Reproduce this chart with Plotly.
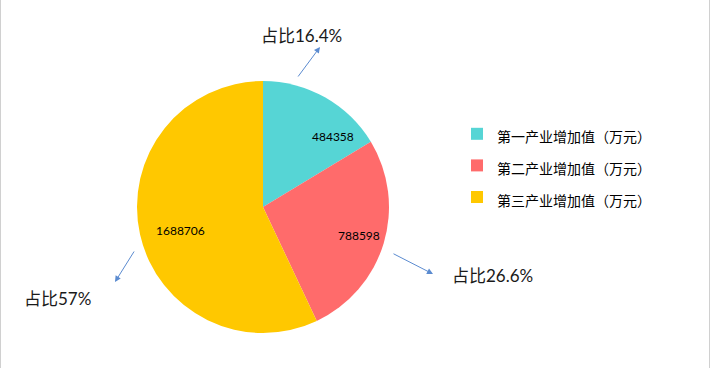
import plotly.graph_objects as go

labels = ["第一产业增加值（万元）", "第二产业增加值（万元）", "第三产业增加值（万元）"]
values = [484358, 788598, 1688706]
colors = ["#56D5D5", "#FF6B6B", "#FFC800"]
share_text = ["占比16.4%", "占比26.6%", "占比57%"]

W, H = 711, 368

legend_labels = [f'<span style="font-size:14px">{l}</span>' for l in labels]

fig = go.Figure(go.Pie(
    labels=legend_labels,
    values=values,
    sort=False,
    direction="clockwise",
    rotation=0,
    marker=dict(colors=colors, line=dict(width=0)),
    textinfo="none",
    hoverinfo="value+percent",
    domain=dict(x=[137 / W, 389 / W], y=[(H - 333) / H, (H - 81) / H]),
))

# value label positions (pixels)
value_pos = [(333, 136), (359, 235), (180, 230)]
# arrows: (head_x, head_y, tail_x, tail_y) in pixels
arrows = [(320, 47, 297, 78), (433, 274, 392, 253), (115, 282, 135, 250)]
text_pos = [(301, 35), (492, 275), (58, 298)]

ann = []
for v, (x, y) in zip(values, value_pos):
    ann.append(dict(
        x=x / W, y=1 - y / H, xref="paper", yref="paper",
        text=str(v), showarrow=False, xanchor="center", yanchor="middle",
        font=dict(size=12, color="#000000", family="Lato, 'Noto Sans CJK SC'"),
    ))
for (hx, hy, tx, ty) in arrows:
    ann.append(dict(
        x=hx / W, y=1 - hy / H, xref="paper", yref="paper",
        ax=tx - hx, ay=ty - hy, axref="pixel", ayref="pixel",
        text="", showarrow=True, arrowhead=2, arrowsize=1.2, arrowwidth=1,
        arrowcolor="#5B8BD0",
    ))
for t, (x, y) in zip(share_text, text_pos):
    ann.append(dict(
        x=x / W, y=1 - y / H, xref="paper", yref="paper",
        text=t, showarrow=False, xanchor="center", yanchor="middle",
        font=dict(size=17, color="#1a1a1a", family="Lato, 'Noto Sans CJK SC'"),
    ))

fig.update_layout(
    width=W, height=H,
    margin=dict(l=0, r=0, t=0, b=0),
    paper_bgcolor="white",
    plot_bgcolor="white",
    showlegend=True,
    legend=dict(
        x=457 / W, y=1 - 113 / H, xanchor="left", yanchor="top",
        font=dict(size=22, color="#000000", family="'Noto Sans CJK SC'"),
        bgcolor="rgba(0,0,0,0)",
    ),
    annotations=ann,
    shapes=[
        dict(type="line", xref="paper", yref="paper", x0=0.5 / W, x1=0.5 / W, y0=0, y1=1,
             line=dict(color="#D0D0D0", width=1)),
        dict(type="line", xref="paper", yref="paper", x0=1 - 1.5 / W, x1=1 - 1.5 / W, y0=0, y1=1,
             line=dict(color="#D0D0D0", width=1)),
    ],
)

fig.write_html("out.html", config={"displayModeBar": False},
               post_script="document.body.style.margin='0';")
